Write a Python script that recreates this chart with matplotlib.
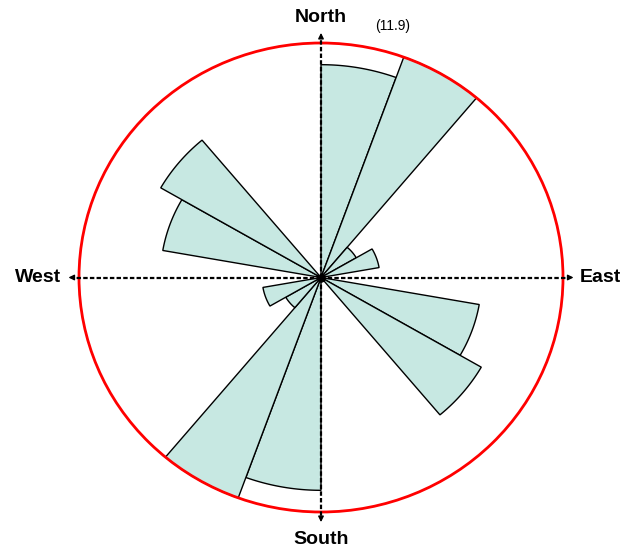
import matplotlib
matplotlib.use("Agg")
import matplotlib.pyplot as plt
import numpy as np
from matplotlib.patches import Polygon, Ellipse

plt.rcParams["font.family"] = ["Liberation Sans", "DejaVu Sans"]

# ── rose data: 18 bins of 20°, clockwise from north ─────────────────────────
bin_starts = [0, 20, 40, 60, 80, 100, 120, 140, 160,
              180, 200, 220, 240, 260, 280, 300, 320, 340]
bin_counts = [10.8, 11.9, 2.0, 2.9, 0, 7.9, 9.1, 0, 0,
              10.8, 11.9, 2.0, 2.9, 0, 7.9, 9.1, 0, 0]
max_label = "(11.9)"
dir_labels = ["North", "East", "South", "West"]

R = max(bin_counts)
W, H = 630, 549
cx, cy = 321, 277.5
sx, sy = 242 / R, 234.5 / R

fig = plt.figure(figsize=(W / 100, H / 100), dpi=100)
ax = fig.add_axes([0, 0, 1, 1])
ax.set_xlim(-cx / sx, (W - cx) / sx)
ax.set_ylim(-(H - cy) / sy, cy / sy)
ax.axis("off")

def pt(r, az):
    a = np.radians(az)
    return r * np.sin(a), r * np.cos(a)

for a0, v in zip(bin_starts, bin_counts):
    if v <= 0:
        continue
    az = np.linspace(a0, a0 + 20, 40)
    xs, ys = pt(v, az)
    verts = [(0, 0)] + list(zip(xs, ys))
    ax.add_patch(Polygon(verts, closed=True, facecolor="#c7e8e2",
                         edgecolor="black", lw=1.0, zorder=2))

ax.add_patch(Ellipse((0, 0), 2 * R, 2 * R, fill=False, edgecolor="red",
                     lw=2.0, zorder=3))

# dashed axes with arrows
L = 1.055 * R
for az, lab in zip([0, 90, 180, 270], dir_labels):
    x, y = pt(L, az)
    ax.plot([0, x * 0.97], [0, y * 0.97], color="black", lw=1.6,
            dashes=(2, 1), zorder=4)
    ax.annotate("", xy=(x, y), xytext=(x * 0.96, y * 0.96),
                arrowprops=dict(arrowstyle="-|>", color="black", lw=1.0,
                                mutation_scale=8), zorder=5)

fs = 14
ax.text(0, (cy - 17) / sy, "North", ha="center", va="center",
        fontsize=fs, fontweight="bold")
ax.text(0, -(539 - cy) / sy, "South", ha="center", va="center",
        fontsize=fs, fontweight="bold")
ax.text((61 - cx) / sx, 0, "West", ha="right", va="center",
        fontsize=fs, fontweight="bold")
ax.text((580 - cx) / sx, 0, "East", ha="left", va="center",
        fontsize=fs, fontweight="bold")
ax.text((393 - cx) / sx, (cy - 26) / sy, max_label, ha="center",
        va="center", fontsize=10)

ax.plot(0, 0, "o", color="black", ms=5, zorder=6)

fig.savefig("out.png", dpi=100)
